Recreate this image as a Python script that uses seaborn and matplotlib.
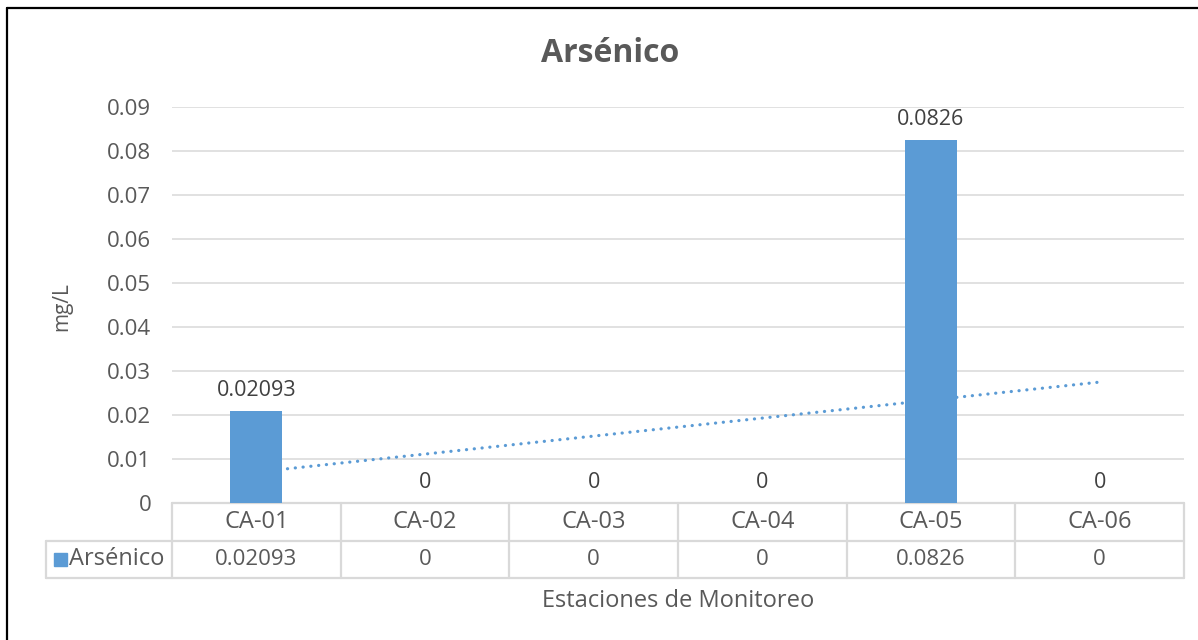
import numpy as np
import pandas as pd
import matplotlib
matplotlib.use("Agg")
import matplotlib.pyplot as plt
import matplotlib.transforms as mtransforms
from matplotlib.lines import Line2D
from matplotlib.patches import Rectangle
import seaborn as sns

# ---- data ----
categories = ["CA-01", "CA-02", "CA-03", "CA-04", "CA-05", "CA-06"]
values = [0.02093, 0, 0, 0, 0.0826, 0]
value_labels = ["0.02093", "0", "0", "0", "0.0826", "0"]
series_name = "Arsénico"
yticks = [0, 0.01, 0.02, 0.03, 0.04, 0.05, 0.06, 0.07, 0.08, 0.09]
ytick_labels = ["0", "0.01", "0.02", "0.03", "0.04", "0.05", "0.06", "0.07", "0.08", "0.09"]
title = "Arsénico"
ylabel = "mg/L"
xlabel = "Estaciones de Monitoreo"

BLUE = "#5B9BD5"
GRID = "#D9D9D9"
TXT = "#595959"
LBL = "#404040"

sns.set_theme(style="white")
plt.rcParams["font.family"] = ["Open Sans", "DejaVu Sans"]

W, H = 1198, 640
fig = plt.figure(figsize=(W / 100, H / 100), dpi=100)
fig.patch.set_facecolor("white")

L, R, T, B = 172, 1184, 107, 503
ax = fig.add_axes([L / W, 1 - B / H, (R - L) / W, (B - T) / H])

df = pd.DataFrame({"cat": categories, "val": values})
sns.barplot(data=df, x="cat", y="val", color=BLUE, saturation=1, width=0.31,
            ax=ax, zorder=3, edgecolor="none")

# linear trendline (computed from data)
xs = np.arange(len(values))
slope, intercept = np.polyfit(xs + 1, values, 1)
ax.plot(xs, intercept + slope * (xs + 1), color=BLUE, lw=2.3,
        linestyle=(0, (0.05, 2.4)), dash_capstyle="round", zorder=2)

ax.set_xlim(-0.5, len(categories) - 0.5)
ax.set_ylim(0, 0.09)
ax.set_yticks(yticks)
ax.set_yticklabels(ytick_labels)
ax.tick_params(axis="y", length=0, pad=15, labelsize=16, labelcolor=TXT)
ax.tick_params(axis="x", length=0, labelbottom=False)
ax.set_xlabel("")
ax.set_ylabel("")
ax.yaxis.grid(True, color=GRID, lw=1.1, zorder=0)
ax.set_axisbelow(True)
for s in ax.spines.values():
    s.set_visible(False)

# data labels
for i, (v, t) in enumerate(zip(values, value_labels)):
    ax.annotate(t, (i, v), xytext=(0, 7), textcoords="offset points",
                ha="center", va="bottom", fontsize=15.5, color=LBL)

# ---- data table under the axes ----
TFS = 17
tr = mtransforms.blended_transform_factory(ax.transData, ax.transAxes)
rowh = 37.5 / (B - T)
legx = -126 / (R - L)  # legend cell left edge in axes fraction
n = len(categories)
lk = dict(color=GRID, lw=1.6, clip_on=False, zorder=1)
ax.plot([-0.5, n - 0.5], [0, 0], transform=tr, **lk)
ax.plot([legx, 1], [-rowh, -rowh], transform=ax.transAxes, **lk)
ax.plot([legx, 1], [-2 * rowh, -2 * rowh], transform=ax.transAxes, **lk)
for k in range(n + 1):
    ax.plot([k - 0.5, k - 0.5], [0, -2 * rowh], transform=tr, **lk)
ax.plot([legx, legx], [-rowh, -2 * rowh], transform=ax.transAxes, **lk)
for i, c in enumerate(categories):
    ax.text(i, -rowh / 2, c, transform=tr, ha="center", va="center",
            fontsize=TFS, color=TXT)
    ax.text(i, -1.5 * rowh, value_labels[i], transform=tr, ha="center",
            va="center", fontsize=16, color=TXT)
sq = 13 / (R - L)
sqh = 13 / (B - T)
ax.add_patch(Rectangle((legx + 8 / (R - L), -1.5 * rowh - sqh / 2), sq, sqh,
                       transform=ax.transAxes, color=BLUE, clip_on=False))
ax.text(legx + 23 / (R - L), -1.5 * rowh, series_name, transform=ax.transAxes,
        ha="left", va="center", fontsize=TFS, color=TXT)

# titles
fig.text(610 / W, 1 - 53 / H, title, ha="center", va="center",
         fontsize=23, fontweight="bold", color=TXT)
fig.text(62 / W, 1 - 307 / H, ylabel, ha="center", va="center",
         rotation=90, fontsize=15, color=TXT)
fig.text(678 / W, 1 - 601 / H, xlabel, ha="center", va="center",
         fontsize=17, color=TXT)

# outer frame (top and left edges visible)
fig.add_artist(Line2D([7 / W, 1], [1 - 8 / H, 1 - 8 / H], color="black", lw=1.6))
fig.add_artist(Line2D([7 / W, 7 / W], [0, 1 - 8 / H], color="black", lw=1.6))

fig.savefig("out.png", dpi=100, facecolor="white")
